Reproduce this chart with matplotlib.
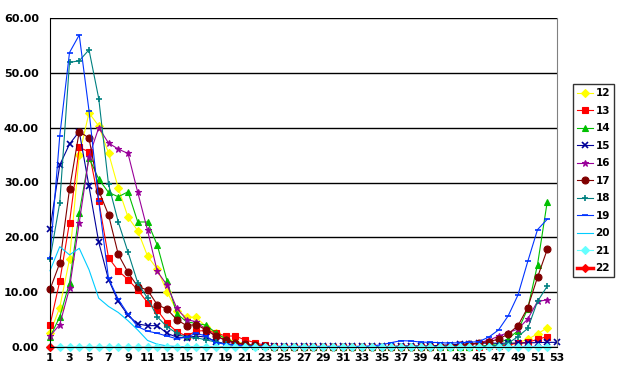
import numpy as np
import matplotlib
matplotlib.use('Agg')
import matplotlib.pyplot as plt

# weekly values, series 12..22 (middle weeks near zero)
s12 = [2.5, 7.2, 16.0, 35.0, 42.7, 40.3, 35.4, 29.0, 23.7, 21.2, 16.6, 14.2, 10.1, 6.6, 5.5, 5.4, 3.7, 2.5, 1.5, 1.0,
       0.6, 0.3, 0.1, 0.0, 0.0, 0.0, 0.0, 0.0, 0.0, 0.0, 0.0, 0.0, 0.0, 0.0, 0.0, 0.0, 0.0, 0.0, 0.0, 0.0,
       0.0, 0.0, 0.0, 0.0, 0.1, 0.2, 0.3, 0.5, 0.8, 1.4, 2.4, 3.5]
s13 = [4.0, 12.0, 22.7, 36.4, 35.6, 26.6, 16.3, 13.9, 12.3, 10.4, 8.1, 6.7, 4.4, 2.8, 2.0, 2.9, 3.0, 2.6, 2.0, 2.0,
       1.3, 0.8, 0.3, 0.1, 0.0, 0.0, 0.0, 0.0, 0.0, 0.0, 0.0, 0.0, 0.0, 0.0, 0.0, 0.0, 0.0, 0.0, 0.0, 0.0,
       0.0, 0.0, 0.0, 0.0, 0.0, 0.1, 0.2, 0.4, 0.7, 0.85, 1.4, 1.9]
s14 = [1.8, 5.5, 11.7, 24.5, 34.5, 30.6, 28.2, 27.4, 28.3, 22.8, 22.8, 18.6, 12.1, 6.1, 4.6, 4.3, 4.0, 2.6, 1.5, 0.8,
       0.4, 0.2, 0.1, 0.0, 0.0, 0.0, 0.0, 0.0, 0.0, 0.0, 0.0, 0.0, 0.0, 0.0, 0.0, 0.0, 0.0, 0.0, 0.0, 0.0,
       0.0, 0.0, 0.0, 0.0, 0.1, 0.3, 0.7, 1.5, 3.0, 7.0, 15.0, 26.5]
s15 = [21.5, 33.2, 37.0, 39.3, 29.3, 19.1, 12.3, 8.3, 5.8, 4.2, 3.9, 3.9, 2.5, 1.8, 1.7, 2.0, 1.8, 1.0, 0.6, 0.4,
       0.3, 0.2, 0.1, 0.1, 0.1, 0.1, 0.1, 0.1, 0.1, 0.1, 0.1, 0.1, 0.1, 0.1, 0.1, 0.1, 0.2, 0.2, 0.2, 0.2,
       0.3, 0.4, 0.5, 0.6, 0.7, 0.7, 0.7, 0.7, 0.7, 0.75, 0.8, 0.85, 0.85]
s16 = [2.0, 4.1, 10.7, 22.7, 34.7, 40.0, 37.2, 36.1, 35.3, 28.2, 21.3, 13.8, 11.3, 7.1, 5.0, 4.6, 3.2, 2.0, 1.2, 0.6,
       0.3, 0.2, 0.1, 0.0, 0.0, 0.0, 0.0, 0.0, 0.0, 0.0, 0.0, 0.0, 0.0, 0.0, 0.0, 0.0, 0.0, 0.0, 0.0, 0.0,
       0.0, 0.1, 0.2, 0.3, 0.8, 1.2, 2.0, 2.6, 3.3, 5.1, 8.3, 8.6]
s17 = [10.5, 15.3, 28.8, 39.3, 38.1, 28.5, 24.1, 16.9, 13.6, 11.0, 10.4, 7.7, 6.9, 5.0, 3.9, 4.1, 3.1, 2.0, 1.3, 0.8,
       0.5, 0.3, 0.1, 0.0, 0.0, 0.0, 0.0, 0.0, 0.0, 0.0, 0.0, 0.0, 0.0, 0.0, 0.0, 0.0, 0.0, 0.0, 0.0, 0.0,
       0.1, 0.2, 0.3, 0.5, 0.7, 1.0, 1.4, 2.4, 3.9, 7.2, 12.7, 17.8]
s18 = [16.0, 26.3, 51.9, 52.2, 54.2, 45.3, 29.7, 22.8, 17.3, 11.7, 8.9, 5.5, 3.7, 2.5, 1.7, 1.7, 1.3, 0.9, 0.5, 0.3,
       0.2, 0.1, 0.0, 0.0, 0.0, 0.0, 0.0, 0.0, 0.0, 0.0, 0.0, 0.0, 0.0, 0.0, 0.0, 0.0, 0.0, 0.0, 0.0, 0.0,
       0.0, 0.0, 0.0, 0.0, 0.1, 0.2, 0.3, 0.7, 1.9, 3.4, 8.3, 11.1]
s19 = [16.3, 38.5, 53.7, 56.9, 43.1, 26.6, 12.5, 8.7, 6.0, 3.7, 2.9, 2.5, 2.0, 1.5, 1.8, 2.5, 2.0, 0.8, 0.5, 0.3,
       0.2, 0.1, 0.1, 0.1, 0.1, 0.1, 0.1, 0.1, 0.1, 0.1, 0.1, 0.1, 0.1, 0.2, 0.4, 0.8, 1.15, 1.1, 0.9, 0.85,
       0.8, 0.7, 0.8, 0.85, 1.0, 1.8, 3.1, 5.7, 9.5, 15.6, 21.4, 23.3]
s20 = [13.9, 18.3, 16.8, 18.0, 14.1, 8.9, 7.4, 6.3, 4.8, 3.1, 1.2, 0.5, 0.2, 0.1, 0.0, 0.0, 0.0, 0.0, 0.0, 0.0,
       0.0, 0.0, 0.0, 0.0, 0.0, 0.0, 0.0, 0.0, 0.0, 0.0, 0.0, 0.0, 0.0, 0.0, 0.0, 0.0, 0.0, 0.0, 0.0, 0.0,
       0.0, 0.0, 0.0, 0.0, 0.0, 0.0, 0.0, 0.0, 0.0, 0.0, 0.0, 0.0]
s21 = [0.0] * 52
s22 = [0.0]

labels = ['12', '13', '14', '15', '16', '17', '18', '19', '20', '21', '22']
series = [s12, s13, s14, s15, s16, s17, s18, s19, s20, s21, s22]
colors = ['#FFFF00', '#FF0000', '#00C000', '#000099', '#990099', '#800000',
          '#008080', '#0033FF', '#00CCFF', '#66FFFF', '#FF0000']
markers = ['D', 's', '^', 'x', '*', 'o', '+', '_', None, 'D', 'D']
msizes = [4, 4.5, 4.5, 4, 5, 5, 5, 4, 0, 4, 4.5]
lwidths = [0.8, 0.8, 0.8, 0.8, 0.8, 0.8, 0.8, 0.8, 0.8, 0.8, 2.5]
week_ticks = list(range(1, 54, 2))

fig = plt.figure(figsize=(6.2, 3.84), dpi=100)
ax = fig.add_axes([50 / 620, 1 - 347 / 384, 507 / 620, 329 / 384])

for vals, lab, c, m, ms, lw in zip(series, labels, colors, markers, msizes, lwidths):
    x = np.arange(1, len(vals) + 1)
    ax.plot(x, vals, color=c, marker=m, markersize=ms, linewidth=lw, label=lab,
            markeredgewidth=1.2 if m in ('x', '+', '_') else 0.8, clip_on=False)

ax.set_xlim(1, 53)
ax.set_ylim(0, 60)
ax.set_yticks(np.arange(0, 61, 10))
ax.set_yticklabels(['%.2f' % v for v in np.arange(0, 61, 10)])
ax.set_xticks(week_ticks)
ax.grid(axis='y', color='black', linewidth=1)
ax.set_axisbelow(True)
ax.tick_params(axis='both', length=0, labelsize=8)
ax.tick_params(axis='y', pad=8)
ax.tick_params(axis='x', pad=4)
for t in ax.get_xticklabels() + ax.get_yticklabels():
    t.set_fontweight('bold')
ax.spines['left'].set_color('black')
ax.spines['bottom'].set_color('black')
ax.spines['top'].set_visible(False)
ax.spines['right'].set_color('#808080')

leg = fig.legend(loc='upper left', bbox_to_anchor=(573 / 620, 1 - 84 / 384),
                 prop={'size': 7.5, 'weight': 'bold'}, frameon=True, fancybox=False,
                 edgecolor='black', handlelength=1.5, labelspacing=0.72,
                 borderaxespad=0, borderpad=0.4, handletextpad=0.25)
leg.get_frame().set_linewidth(1)

fig.savefig('out.png', dpi=100)
